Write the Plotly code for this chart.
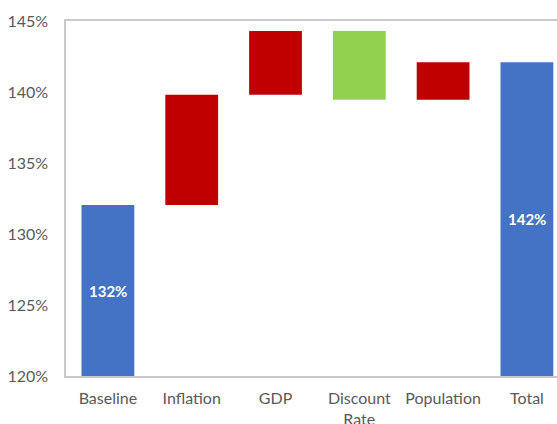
import plotly.graph_objects as go

categories = ["Baseline", "Inflation", "GDP", "Discount<br>Rate", "Population", "Total"]
measures = ["absolute", "relative", "relative", "relative", "relative", "total"]
values = [132.04, 7.76, 4.5, -4.85, 2.65, 0]
bar_labels = ["132%", "", "", "", "", "142%"]
y_min, y_max = 120, 145
tick_vals = [120, 125, 130, 135, 140, 145]

# running totals for label placement
levels = []
run = 0
for m, v in zip(measures, values):
    if m == "absolute":
        run = v
    elif m == "relative":
        run += v
    levels.append(run)

font_family = "Lato, 'Open Sans', sans-serif"

fig = go.Figure(go.Waterfall(
    x=categories,
    measure=measures,
    y=values,
    increasing=dict(marker=dict(color="#C00000", line=dict(width=0))),
    decreasing=dict(marker=dict(color="#92D050", line=dict(width=0))),
    totals=dict(marker=dict(color="#4472C4", line=dict(width=0))),
    connector=dict(visible=False),
    width=0.63,
    hoverinfo="skip",
))

for cat, lab, lev in zip(categories, bar_labels, levels):
    if lab:
        fig.add_annotation(
            x=cat, y=(y_min + lev) / 2, text="<b>" + lab + "</b>",
            showarrow=False, font=dict(color="white", size=15, family=font_family),
            xref="x", yref="y",
        )

fig.update_layout(
    width=557, height=424,
    margin=dict(l=66, r=0, t=21, b=48, autoexpand=False),
    paper_bgcolor="white", plot_bgcolor="white",
    showlegend=False,
    font=dict(family=font_family, size=16, color="#595959"),
    xaxis=dict(
        type="category",
        range=[-0.5, 5.359],
        showline=True, linecolor="#C9C9C9", linewidth=1.5, mirror=True,
        showgrid=False, ticks="", ticklabelstandoff=7, automargin=False,
        tickfont=dict(size=16, color="#595959"),
        fixedrange=True,
    ),
    yaxis=dict(
        range=[y_min, y_max],
        tickvals=tick_vals,
        ticktext=[f"{v}%" for v in tick_vals],
        showline=True, linecolor="#C9C9C9", linewidth=1.5, mirror=False,
        showgrid=False, zeroline=False, ticks="", ticklabelstandoff=13,
        automargin=False,
        tickfont=dict(size=16, color="#595959"),
        fixedrange=True,
    ),
)

fig.write_html("out.html")
